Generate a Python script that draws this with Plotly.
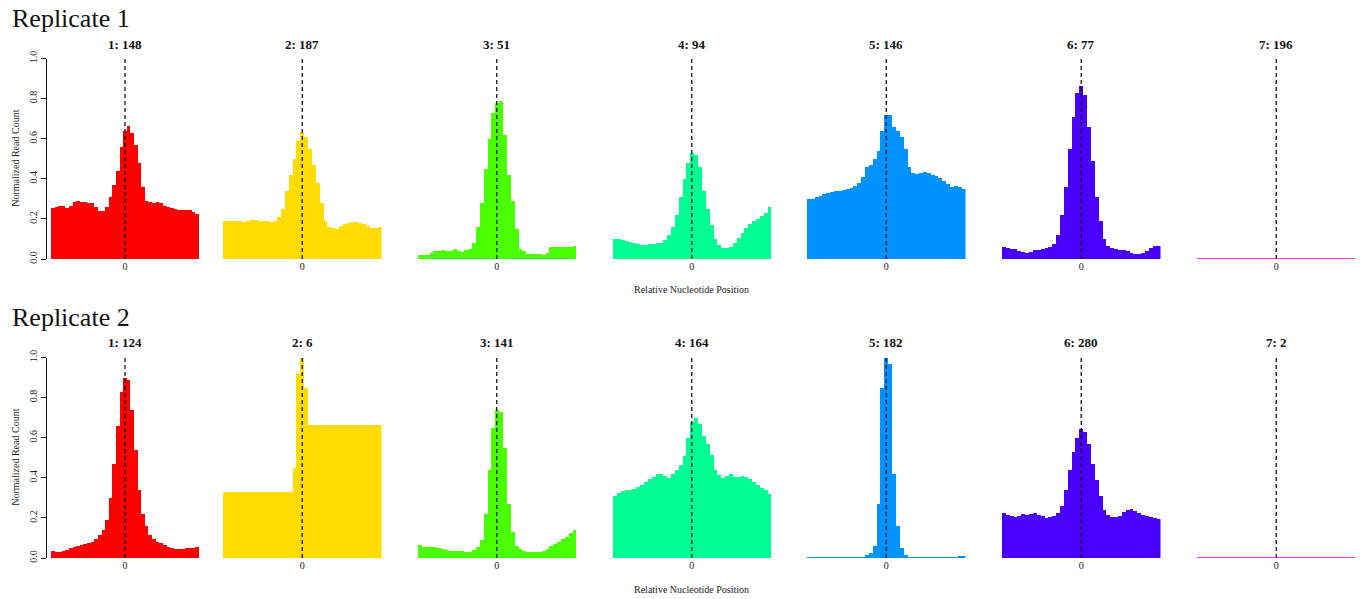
import plotly.graph_objects as go

# Relative nucleotide positions (bin centres, 5 nt bins around the site at 0)
positions = list(range(-100, 101, 5))

# Cluster headers per replicate: "cluster: number of sites"
rep1_titles = ["1: 148", "2: 187", "3: 51", "4: 94", "5: 146", "6: 77", "7: 196"]
rep2_titles = ["1: 124", "2: 6", "3: 141", "4: 164", "5: 182", "6: 280", "7: 2"]

# R rainbow(7) palette, one colour per cluster
cluster_colors = ["#FF0000", "#FFDB00", "#49FF00", "#00FF92", "#0092FF", "#4900FF", "#FF00DB"]

# ---- Replicate 1, normalized read counts per bin ----
rep1_c1 = [0.255, 0.26, 0.265, 0.265, 0.255, 0.265, 0.285, 0.29, 0.285, 0.285, 0.28,
           0.28, 0.26, 0.24, 0.24, 0.26, 0.31, 0.37, 0.44, 0.56, 0.64, 0.665, 0.63,
           0.57, 0.48, 0.36, 0.29, 0.285, 0.28, 0.285, 0.28, 0.265, 0.26, 0.255, 0.25,
           0.245, 0.245, 0.245, 0.245, 0.235, 0.225]
rep1_c2 = [0.19, 0.19, 0.19, 0.19, 0.19, 0.185, 0.19, 0.195, 0.195, 0.19, 0.19,
           0.19, 0.185, 0.19, 0.21, 0.25, 0.34, 0.42, 0.50, 0.59, 0.635, 0.61, 0.55,
           0.47, 0.38, 0.28, 0.19, 0.16, 0.155, 0.15, 0.165, 0.175, 0.18, 0.185, 0.185,
           0.18, 0.175, 0.165, 0.155, 0.155, 0.16]
rep1_c3 = [0.02, 0.02, 0.02, 0.03, 0.04, 0.04, 0.045, 0.04, 0.04, 0.05, 0.04,
           0.035, 0.045, 0.05, 0.08, 0.16, 0.28, 0.45, 0.60, 0.73, 0.78, 0.79, 0.62,
           0.42, 0.29, 0.15, 0.05, 0.04, 0.025, 0.025, 0.025, 0.025, 0.02, 0.03, 0.06,
           0.06, 0.06, 0.06, 0.06, 0.06, 0.065]
rep1_c4 = [0.10, 0.10, 0.095, 0.09, 0.085, 0.08, 0.075, 0.07, 0.07, 0.075, 0.075,
           0.08, 0.08, 0.095, 0.12, 0.16, 0.22, 0.31, 0.40, 0.48, 0.53, 0.52, 0.46,
           0.34, 0.25, 0.17, 0.10, 0.07, 0.055, 0.055, 0.06, 0.08, 0.105, 0.13, 0.155,
           0.175, 0.19, 0.20, 0.215, 0.23, 0.26]
rep1_c5 = [0.30, 0.30, 0.31, 0.315, 0.325, 0.33, 0.335, 0.34, 0.34, 0.345, 0.35,
           0.355, 0.365, 0.38, 0.41, 0.46, 0.47, 0.50, 0.54, 0.64, 0.72, 0.72, 0.66,
           0.64, 0.61, 0.55, 0.46, 0.43, 0.425, 0.43, 0.435, 0.43, 0.42, 0.415, 0.405,
           0.39, 0.375, 0.36, 0.365, 0.36, 0.35]
rep1_c6 = [0.06, 0.055, 0.05, 0.05, 0.04, 0.035, 0.03, 0.035, 0.045, 0.045, 0.05,
           0.055, 0.06, 0.075, 0.12, 0.22, 0.36, 0.55, 0.71, 0.83, 0.865, 0.82, 0.66,
           0.49, 0.31, 0.19, 0.10, 0.065, 0.055, 0.05, 0.045, 0.045, 0.04, 0.03, 0.025,
           0.025, 0.03, 0.04, 0.055, 0.065, 0.065]
rep1_c7 = [0.0] * 41

# ---- Replicate 2, normalized read counts per bin ----
rep2_c1 = [0.035, 0.03, 0.03, 0.035, 0.04, 0.05, 0.055, 0.06, 0.065, 0.07, 0.075,
           0.08, 0.095, 0.115, 0.14, 0.19, 0.30, 0.47, 0.66, 0.83, 0.90, 0.89, 0.74,
           0.54, 0.34, 0.22, 0.16, 0.115, 0.095, 0.08, 0.075, 0.065, 0.055, 0.05, 0.045,
           0.045, 0.045, 0.05, 0.05, 0.05, 0.055]
rep2_c2 = [0.333, 0.333, 0.333, 0.333, 0.333, 0.333, 0.333, 0.333, 0.333, 0.333, 0.333,
           0.333, 0.333, 0.333, 0.333, 0.333, 0.333, 0.333, 0.45, 0.92, 1.0, 0.85, 0.667,
           0.667, 0.667, 0.667, 0.667, 0.667, 0.667, 0.667, 0.667, 0.667, 0.667, 0.667, 0.667,
           0.667, 0.667, 0.667, 0.667, 0.667, 0.667]
rep2_c3 = [0.065, 0.055, 0.055, 0.055, 0.055, 0.05, 0.045, 0.04, 0.035, 0.035, 0.035,
           0.035, 0.03, 0.03, 0.04, 0.055, 0.09, 0.22, 0.44, 0.65, 0.74, 0.73, 0.55,
           0.27, 0.13, 0.06, 0.045, 0.035, 0.03, 0.03, 0.03, 0.03, 0.035, 0.045, 0.06,
           0.07, 0.08, 0.095, 0.105, 0.125, 0.14]
rep2_c4 = [0.31, 0.325, 0.335, 0.34, 0.34, 0.345, 0.355, 0.365, 0.38, 0.395, 0.405,
           0.42, 0.42, 0.41, 0.40, 0.42, 0.44, 0.465, 0.51, 0.60, 0.68, 0.70, 0.67,
           0.61, 0.57, 0.515, 0.44, 0.415, 0.40, 0.41, 0.42, 0.405, 0.405, 0.41, 0.405,
           0.395, 0.38, 0.365, 0.35, 0.34, 0.32]
rep2_c5 = [0.005, 0.005, 0.005, 0.005, 0.005, 0.005, 0.005, 0.005, 0.005, 0.005, 0.005,
           0.005, 0.005, 0.008, 0.01, 0.015, 0.025, 0.06, 0.27, 0.85, 1.0, 0.97, 0.42,
           0.16, 0.05, 0.015, 0.008, 0.005, 0.005, 0.005, 0.005, 0.005, 0.005, 0.005, 0.005,
           0.005, 0.005, 0.006, 0.01, 0.012, 0.012]
rep2_c6 = [0.225, 0.215, 0.21, 0.205, 0.21, 0.22, 0.215, 0.22, 0.225, 0.215, 0.21,
           0.20, 0.205, 0.21, 0.225, 0.26, 0.34, 0.44, 0.53, 0.60, 0.645, 0.63, 0.57,
           0.47, 0.39, 0.31, 0.24, 0.215, 0.205, 0.205, 0.21, 0.23, 0.24, 0.245, 0.235,
           0.225, 0.215, 0.21, 0.205, 0.20, 0.195]
rep2_c7 = [0.0] * 41

rows = [
    ("Replicate 1", rep1_titles, [rep1_c1, rep1_c2, rep1_c3, rep1_c4, rep1_c5, rep1_c6, rep1_c7]),
    ("Replicate 2", rep2_titles, [rep2_c1, rep2_c2, rep2_c3, rep2_c4, rep2_c5, rep2_c6, rep2_c7]),
]

W, H = 1360, 599
SERIF = "Liberation Serif"
BIN = 5
XR = [positions[0] - BIN / 2, positions[-1] + BIN / 2]

# Panel horizontal extents (pixels) and vertical extents for each row (top, baseline)
panel_px = [(51, 199), (223, 381.5), (417.5, 576), (612.5, 771), (807, 965.5), (1002, 1160.5), (1197, 1355.5)]
row_px = [(58.5, 259), (357.5, 558)]

fig = go.Figure()
layout = dict(
    template="none",
    width=W, height=H, autosize=False,
    margin=dict(l=0, r=0, t=0, b=0, pad=0, autoexpand=False),
    paper_bgcolor="white", plot_bgcolor="white",
    showlegend=False, bargap=0,
    font=dict(family=SERIF, color="#111"),
)
shapes, annotations = [], []

k = 0
for r, (rep_name, titles, series) in enumerate(rows):
    top_px, base_px = row_px[r]
    ydom = [(H - base_px) / H, (H - top_px) / H]
    for c in range(7):
        k += 1
        xa = "x" if k == 1 else f"x{k}"
        ya = "y" if k == 1 else f"y{k}"
        x0, x1 = panel_px[c]
        vals = series[c]
        color = cluster_colors[c]
        if c < 6:
            fig.add_trace(go.Bar(x=positions, y=vals, width=BIN, marker=dict(color=color, line=dict(width=0)),
                                 xaxis=xa, yaxis=ya, hoverinfo="x+y"))
        else:
            fig.add_trace(go.Scatter(x=[XR[0]] + positions + [XR[1]], y=[vals[0]] + vals + [vals[-1]],
                                     mode="lines", line=dict(color=color, width=1.5), cliponaxis=False,
                                     xaxis=xa, yaxis=ya, hoverinfo="x+y"))
        xkey = "xaxis" if k == 1 else f"xaxis{k}"
        ykey = "yaxis" if k == 1 else f"yaxis{k}"
        layout[xkey] = dict(
            domain=[x0 / W, x1 / W], range=XR, anchor=ya, automargin=False,
            showgrid=False, zeroline=False, showline=False,
            tickvals=[0], ticktext=["0"], ticks="",
            tickfont=dict(family=SERIF, size=10, color="#222"),
            fixedrange=True,
        )
        ycfg = dict(domain=ydom, range=[0, 1], anchor=xa, automargin=False,
                    showgrid=False, zeroline=False, fixedrange=True)
        if c == 0:
            ycfg.update(
                anchor="free", position=46 / W,
                showline=True, linecolor="#111", linewidth=1,
                ticks="outside", ticklen=5, tickcolor="#111",
                tickvals=[0, 0.2, 0.4, 0.6, 0.8, 1.0], tickformat=".1f",
                tickangle=-90, tickfont=dict(family=SERIF, size=10, color="#222"),
            )
        else:
            ycfg.update(visible=False)
        layout[ykey] = ycfg

        # dashed guide through the centre position
        shapes.append(dict(type="line", xref=xa, yref=ya, x0=0, x1=0, y0=0, y1=1,
                           line=dict(color="#111", width=1.3, dash="4px,3px"), layer="above"))
        # panel header
        annotations.append(dict(text=f"<b>{titles[c]}</b>", x=(x0 + x1) / 2 / W, y=(H - (top_px - 14.5)) / H,
                                xref="paper", yref="paper", showarrow=False,
                                xanchor="center", yanchor="middle",
                                font=dict(family=SERIF, size=13, color="#111")))

    # replicate heading
    annotations.append(dict(text=rep_name, x=10 / W, y=(H - (top_px - 40)) / H,
                            xref="paper", yref="paper", showarrow=False,
                            xanchor="left", yanchor="middle",
                            font=dict(family=SERIF, size=26, color="#111")))
    # y-axis title
    annotations.append(dict(text="Normalized Read Count", x=16 / W, y=(H - (top_px + base_px) / 2) / H,
                            xref="paper", yref="paper", showarrow=False, textangle=-90,
                            xanchor="center", yanchor="middle",
                            font=dict(family=SERIF, size=10, color="#222")))
    # x-axis title
    annotations.append(dict(text="Relative Nucleotide Position", x=691 / W, y=(H - (base_px + 31)) / H,
                            xref="paper", yref="paper", showarrow=False,
                            xanchor="center", yanchor="middle",
                            font=dict(family=SERIF, size=10, color="#222")))

layout["shapes"] = shapes
layout["annotations"] = annotations
fig.update_layout(**layout)
fig.write_html("out.html")
